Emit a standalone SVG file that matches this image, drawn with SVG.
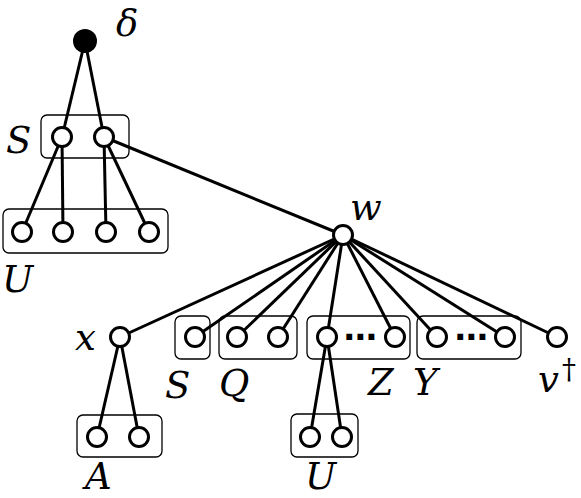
<svg xmlns="http://www.w3.org/2000/svg" width="581" height="498" viewBox="0 0 581 498">
<style>
.e{stroke:#000;stroke-width:3;fill:none}
.n{fill:#fff;stroke:#000;stroke-width:3}
.b{fill:none;stroke:#000;stroke-width:1.3}
.t{font-family:"DejaVu Serif",serif;font-style:italic;font-size:37px;fill:#000}
.d{font-family:"DejaVu Sans",sans-serif;font-weight:bold;font-size:33px;fill:#000}
</style>
<rect width="581" height="498" fill="#fff"/>
<g id="connectors" class="e">
<line x1="85" y1="41" x2="62" y2="137"/>
<line x1="85" y1="41" x2="104" y2="137"/>
<line x1="62" y1="137" x2="22" y2="232"/>
<line x1="62" y1="137" x2="63" y2="232"/>
<line x1="104" y1="137" x2="106" y2="232"/>
<line x1="104" y1="137" x2="149" y2="232"/>
<line x1="104" y1="137" x2="343" y2="235"/>
<line x1="343" y1="235" x2="120" y2="337"/>
<line x1="343" y1="235" x2="195" y2="337"/>
<line x1="343" y1="235" x2="237" y2="337"/>
<line x1="343" y1="235" x2="278" y2="337"/>
<line x1="343" y1="235" x2="327" y2="337"/>
<line x1="343" y1="235" x2="395" y2="337"/>
<line x1="343" y1="235" x2="437" y2="337"/>
<line x1="343" y1="235" x2="505" y2="337"/>
<line x1="343" y1="235" x2="557" y2="337"/>
<line x1="120" y1="337" x2="97" y2="437"/>
<line x1="120" y1="337" x2="139" y2="437"/>
<line x1="327" y1="337" x2="310" y2="437"/>
<line x1="327" y1="337" x2="342" y2="437"/>
</g>
<g id="root">
<circle cx="85" cy="41" r="12" fill="#000"/>
<text class="t" x="116" y="36">δ</text>
</g>
<g id="S-top">
<rect class="b" x="41" y="115" width="88" height="43" rx="6"/>
<circle class="n" cx="62" cy="137" r="9.5"/>
<circle class="n" cx="104" cy="137" r="9.5"/>
<text class="t" x="6" y="153">S</text>
</g>
<g id="U-top">
<rect class="b" x="3" y="209" width="165" height="44" rx="6"/>
<circle class="n" cx="22" cy="232" r="9.5"/>
<circle class="n" cx="63" cy="232" r="9.5"/>
<circle class="n" cx="106" cy="232" r="9.5"/>
<circle class="n" cx="149" cy="232" r="9.5"/>
<text class="t" x="2" y="292">U</text>
</g>
<g id="w">
<circle class="n" cx="343" cy="235" r="9.5"/>
<text class="t" x="350" y="220">w</text>
</g>
<g id="x">
<circle class="n" cx="120" cy="337" r="9.5"/>
<text class="t" x="75" y="350">x</text>
</g>
<g id="S-bottom">
<rect class="b" x="175" y="316" width="35" height="43" rx="6"/>
<circle class="n" cx="195" cy="337" r="9.5"/>
<text class="t" x="165" y="398">S</text>
</g>
<g id="Q">
<rect class="b" x="219" y="316" width="78" height="43" rx="6"/>
<circle class="n" cx="237" cy="337" r="9.5"/>
<circle class="n" cx="278" cy="337" r="9.5"/>
<text class="t" x="219" y="396">Q</text>
</g>
<g id="Z">
<rect class="b" x="307" y="316" width="103" height="43" rx="6"/>
<circle class="n" cx="327" cy="337" r="9.5"/>
<circle class="n" cx="395" cy="337" r="9.5"/>
<text class="d" x="360" y="348" text-anchor="middle">⋯</text>
<text class="t" x="368" y="395">Z</text>
</g>
<g id="Y">
<rect class="b" x="417" y="316" width="104" height="43" rx="6"/>
<circle class="n" cx="437" cy="337" r="9.5"/>
<circle class="n" cx="505" cy="337" r="9.5"/>
<text class="d" x="471" y="348" text-anchor="middle">⋯</text>
<text class="t" x="413" y="395">Y</text>
</g>
<g id="v">
<circle class="n" cx="557" cy="337" r="9.5"/>
<text class="t" x="538" y="392">v<tspan font-style="normal" font-size="28" dx="3" dy="-13">†</tspan></text>
</g>
<g id="A">
<rect class="b" x="77" y="415" width="85" height="42" rx="6"/>
<circle class="n" cx="97" cy="437" r="9.5"/>
<circle class="n" cx="139" cy="437" r="9.5"/>
<text class="t" x="85" y="489">A</text>
</g>
<g id="U-bottom">
<rect class="b" x="291" y="414" width="67" height="43" rx="6"/>
<circle class="n" cx="310" cy="437" r="9.5"/>
<circle class="n" cx="342" cy="437" r="9.5"/>
<text class="t" x="305" y="489">U</text>
</g>
</svg>
